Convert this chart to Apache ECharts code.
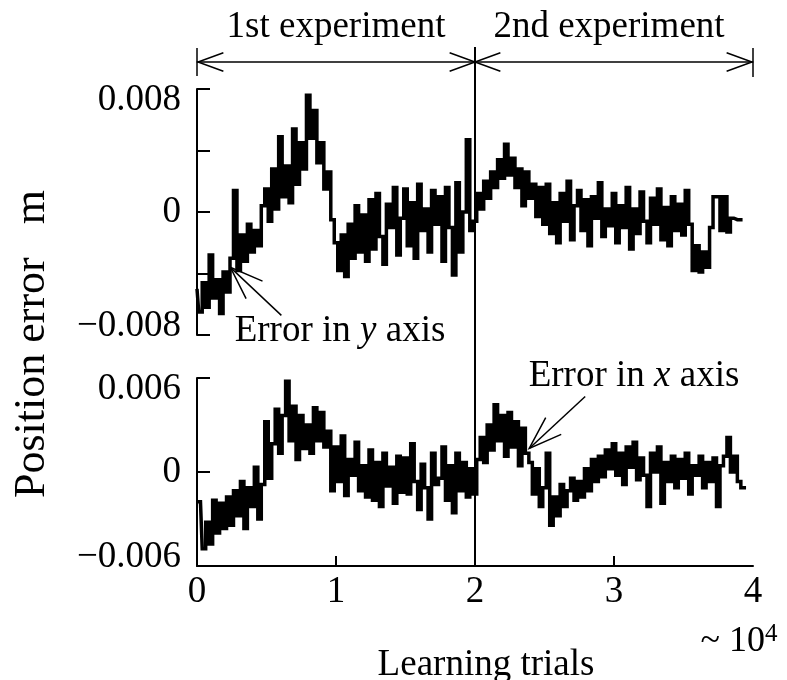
<!DOCTYPE html>
<html>
<head>
<meta charset="utf-8">
<script src="https://cdn.jsdelivr.net/npm/echarts@6/dist/echarts.min.js"></script>
<style>
  html, body { margin: 0; background: #fff; }
  #chart { width: 787px; height: 680px; }
</style>
</head>
<body>
<div id="chart"></div>
<script>
// sample spacing along the x axis, in units of 10^4 learning trials
const trialStep = 0.025;

// position error in y axis (mm)
const yErrorMm = [
  -5.0, -6.5, -4.6, -6.2, -2.8, -5.6, -4.4, -6.6, -3.9, -5.2,
  -3.0, 1.4, -3.8, -1.5, -3.2, -0.8, -2.6, -1.2, -2.2, 0.4,
  1.5, -0.6, 2.8, 0.2, 4.9, 1.0, 3.0, 0.6, 5.4, 1.8,
  4.5, 2.8, 7.6, 4.8, 6.6, 3.2, 4.5, 1.5, 2.6, -0.5,
  -2.0, -3.8, -1.5, -4.2, -0.8, -3.0, 0.4, -2.6, -0.2, -3.2,
  0.8, -2.4, 1.2, -1.6, -3.4, 0.5, -1.0, 1.6, -2.8, -0.4,
  1.5, -2.2, 0.6, -3.0, 1.8, -1.2, 0.2, -2.6, 1.4, -0.8,
  1.0, -3.2, 1.6, -1.0, -4.1, 1.9, -2.6, 0.0, 4.7, -1.2,
  -0.6, 1.2, 0.2, 2.0, 0.9, 2.6, 1.6, 3.4, 2.2, 4.4,
  2.4, 3.5, 1.6, 2.8, 0.4, 2.6, 0.9, 1.8, -0.3, 1.6,
  -0.8, 1.8, -1.4, 0.6, -2.0, 1.2, -0.6, 2.0, -1.8, 0.4,
  1.4, -1.2, 0.8, -2.2, 1.0, -0.4, 1.9, -1.6, 0.2, -0.9,
  1.2, -2.0, 0.4, -1.0, 1.6, -2.4, 0.2, -1.4, 1.3, -0.6,
  -2.0, 0.9, -0.8, 1.5, -1.8, 0.3, -2.2, 1.0, -1.2, 0.5,
  -1.5, 1.4, -0.8, -3.8, -2.2, -3.9, -2.6, -3.6, -1.0, 1.0,
  1.0, -1.2, 1.0, -1.3, -0.4, -0.5, -0.5, -0.5
];

// position error in x axis (mm)
const xErrorMm = [
  -1.9, -1.9, -4.9, -3.2, -4.6, -1.8, -3.9, -2.0, -3.6, -1.6,
  -3.4, -1.2, -2.8, -0.6, -3.6, -1.0, -2.2, 0.3, -3.0, -0.8,
  3.2, -0.4, 1.8, 4.0, 1.2, 3.6, 5.8, 2.0, 4.2, 0.8,
  3.6, 1.5, 3.0, 1.2, 4.1, 2.0, 3.8, 1.6, 2.6, -1.2,
  1.6, -0.6, 2.3, -1.5, 0.8, -0.2, 1.9, -1.2, 0.4, -1.6,
  1.4, -1.8, 0.6, -2.2, 1.2, -0.9, 0.3, -2.0, 1.0, -1.3,
  0.9, -1.4, 1.8, -0.6, -2.4, 0.5, -1.0, -3.0, 1.2, -0.8,
  -0.4, 1.6, -1.8, 0.4, -2.6, 1.2, -1.2, 0.6, -1.6, 0.2,
  -1.4, 0.8, 2.2, 0.6, 3.0, 1.4, 4.3, 2.0, 3.6, 1.0,
  3.8, 1.6, 3.2, 0.4, 2.8, 1.2, 0.6, -1.4, 0.2, -2.2,
  -1.0, 1.2, -3.4, -1.6, -2.8, -0.8, -2.2, -1.2, -0.4, -1.8,
  -0.6, -1.6, 0.2, -1.2, 0.8, -0.6, 1.0, -0.3, 1.4, 0.2,
  1.8, -0.2, 1.2, -0.8, 1.6, 0.3, 1.9, -0.5, 0.9, -0.2,
  -2.2, 1.2, 0.0, 1.6, -2.0, 0.6, -0.6, 1.0, -1.0, 0.8,
  -0.4, 1.2, -1.4, 0.4, -0.2, 1.0, -1.0, 0.6, -0.6, 0.9,
  -2.2, 0.4, 1.0, 2.2, 0.0, 1.0, -0.6, -1.0, -1.0
];

// axis ticks (mm) and their printed labels (m)
const topTicks = [-8, -4, 0, 4, 8];
const topTickLabels = ["\u22120.008", "", "0", "", "0.008"];
const bottomTicks = [-6, 0, 6];
const bottomTickLabels = ["\u22120.006", "0", "0.006"];
const xTicks = [0, 1, 2, 3, 4];
const xTickLabels = ["0", "1", "2", "3", "4"];
const xMarkedTicks = [1, 3];
const experimentSplit = 2;

const serif = '"Liberation Serif", "Times New Roman", serif';
const ink = "#000";
const fontSize = 37;

const chart = echarts.init(document.getElementById("chart"));

function toPairs(values) {
  return values.map((v, i) => [+(i * trialStep).toFixed(3), v]);
}

function yAxisFor(gridIndex, ticks, labels) {
  const last = ticks.length - 1;
  const txt = { fontFamily: serif, fontSize, color: ink };
  return {
    type: "value",
    gridIndex,
    min: ticks[0],
    max: ticks[last],
    interval: ticks[1] - ticks[0],
    axisLine: { show: true, onZero: false, lineStyle: { color: ink, width: 2 } },
    axisTick: { show: true, inside: true, length: 13, lineStyle: { color: ink, width: 2 } },
    splitLine: { show: false },
    axisLabel: {
      margin: 16,
      ...txt,
      formatter: (v) => {
        const i = ticks.findIndex((t) => Math.abs(t - v) < 1e-9);
        const s = i >= 0 ? labels[i] : "";
        if (!s) return "";
        if (i === last) return "{hi|" + s + "}";
        if (i === 0) return "{lo|" + s + "}";
        return s;
      },
      rich: {
        hi: { ...txt, padding: [22, 0, 0, 0] },
        lo: { ...txt, padding: [0, 0, 18, 0] }
      }
    }
  };
}

function trace(name, axisIndex, values) {
  return {
    name,
    type: "line",
    xAxisIndex: axisIndex,
    yAxisIndex: axisIndex,
    data: toPairs(values),
    step: "middle",
    showSymbol: false,
    lineStyle: { color: ink, width: 3.5, join: "miter" }
  };
}

chart.setOption({
  animation: false,
  backgroundColor: "#fff",
  grid: [
    { left: 197, width: 556, top: 89, height: 246, outerBoundsMode: "none" },
    { left: 197, width: 556, top: 378, height: 188, outerBoundsMode: "none" }
  ],
  xAxis: [
    { type: "value", gridIndex: 0, min: 0, max: 4, show: false },
    {
      type: "value",
      gridIndex: 1,
      min: xTicks[0],
      max: xTicks[xTicks.length - 1],
      interval: 1,
      axisLine: { show: true, onZero: false, lineStyle: { color: ink, width: 2 } },
      axisTick: { show: true, inside: true, length: 10, customValues: xMarkedTicks, lineStyle: { color: ink, width: 2 } },
      splitLine: { show: false },
      axisLabel: {
        margin: 8,
        fontFamily: serif,
        fontSize,
        color: ink,
        formatter: (v) => xTickLabels[xTicks.indexOf(Math.round(v))] || ""
      }
    }
  ],
  yAxis: [
    yAxisFor(0, topTicks, topTickLabels),
    yAxisFor(1, bottomTicks, bottomTickLabels)
  ],
  series: [
    trace("Error in y axis", 0, yErrorMm),
    trace("Error in x axis", 1, xErrorMm)
  ]
});

// annotations placed through the axes' own scales
const px = (grid, x, y) => chart.convertToPixel({ gridIndex: grid }, [x, y]);
const thin = { stroke: ink, lineWidth: 1.5, fill: "none" };

function head(tip, from, len, deg) {
  const a = Math.atan2(from[1] - tip[1], from[0] - tip[0]);
  const s = (deg * Math.PI) / 180;
  return [
    [tip[0] + len * Math.cos(a + s), tip[1] + len * Math.sin(a + s)],
    tip,
    [tip[0] + len * Math.cos(a - s), tip[1] + len * Math.sin(a - s)]
  ];
}

function line(p, q, style) {
  return { type: "line", shape: { x1: p[0], y1: p[1], x2: q[0], y2: q[1] }, style: style || thin };
}

function poly(points) {
  return { type: "polyline", shape: { points }, style: thin };
}

function label(text, x, y, size) {
  return {
    type: "text",
    style: { text, x, y, fill: ink, font: (size || fontSize) + "px " + serif, align: "center", verticalAlign: "middle" }
  };
}

const base = px(1, 0, bottomTicks[0]);
const mid = px(1, experimentSplit, bottomTicks[0]);
const end = px(1, 4, bottomTicks[0]);
const bracketY = 62;

const yTip = px(0, 0.24, -3.6);
const yTail = [yTip[0] + 51, yTip[1] + 48];
const xTip = px(1, 2.39, 1.5);
const xTail = [xTip[0] + 56, xTip[1] - 52];

const italicRich = {
  n: { fontFamily: serif, fontSize, fill: ink },
  i: { fontFamily: serif, fontSize, fontStyle: "italic", fill: ink }
};

chart.setOption({
  graphic: [
    line([mid[0], 47], [mid[0], mid[1]], { stroke: ink, lineWidth: 2 }),
    line([base[0], bracketY], [end[0], bracketY]),
    line([base[0], 48], [base[0], 76]),
    line([end[0], 48], [end[0], 77]),
    poly(head([base[0] + 1, bracketY], [mid[0], bracketY], 27, 20)),
    poly(head([mid[0], bracketY], [base[0], bracketY], 27, 20)),
    poly(head([mid[0], bracketY], [end[0], bracketY], 27, 20)),
    poly(head([end[0] - 1, bracketY], [mid[0], bracketY], 27, 20)),
    label("1st experiment", 336, 27),
    label("2nd experiment", 609, 27),
    line(yTip, yTail),
    poly(head(yTip, yTail, 35, 20)),
    line(xTip, xTail),
    poly(head(xTip, xTail, 35, 19)),
    {
      type: "text",
      style: { text: "{n|Error in }{i|y}{n| axis}", rich: italicRich, x: 340, y: 331, align: "center", verticalAlign: "middle" }
    },
    {
      type: "text",
      style: { text: "{n|Error in }{i|x}{n| axis}", rich: italicRich, x: 634, y: 376, align: "center", verticalAlign: "middle" }
    },
    label("Learning trials", 486, 665),
    {
      type: "text",
      style: {
        text: "{a|~ 10}{s|4}",
        x: 739, y: 642, align: "center", verticalAlign: "middle",
        rich: {
          a: { fontFamily: serif, fontSize: 36, fill: ink },
          s: { fontFamily: serif, fontSize: 25, fill: ink, padding: [0, 0, 16, 0] }
        }
      }
    },
    {
      type: "text",
      x: 32,
      y: 344,
      rotation: Math.PI / 2,
      style: { text: "Position error   m", x: 0, y: 0, fill: ink, font: "44px " + serif, align: "center", verticalAlign: "middle" }
    }
  ]
});

window.addEventListener("resize", () => chart.resize());
</script>
</body>
</html>
